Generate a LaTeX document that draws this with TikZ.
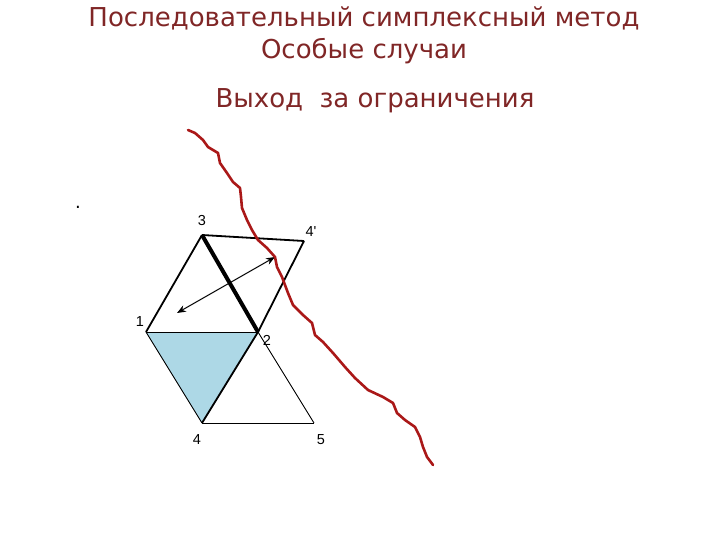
\documentclass[tikz,border=0pt]{standalone}
\usepackage{fontspec}
\setmainfont{DejaVu Sans}
\newfontfamily\labelfont{Liberation Sans}
\usetikzlibrary{arrows.meta}
\definecolor{titlered}{RGB}{128,38,38}
\definecolor{curvered}{RGB}{170,24,24}
\definecolor{facefill}{RGB}{173,216,230}
\newcommand{\titlesize}{\fontsize{26}{31}\selectfont}

\begin{document}
\begin{tikzpicture}[x=1pt, y=-1pt,
    title/.style={text=titlered, font=\titlesize, inner sep=0pt},
    vlabel/.style={font=\labelfont\fontsize{14.5}{16}\selectfont, inner sep=0pt},
    thinedge/.style={draw, line width=0.9pt},
    midedge/.style={draw, line width=1.8pt},
    boldedge/.style={draw, line width=4pt}]
    \useasboundingbox (0,0) rectangle (720,540);

    % Titles
    \node[title] (title-1) at (364,18) {Последовательный симплексный метод};
    \node[title] (title-2) at (364,51) {Особые случаи};
    \node[title] (title-3) at (375,101) {Выход\ \ за ограничения};
    \node[inner sep=0pt, font=\fontsize{18}{20}\selectfont] (dot) at (78,207) {.};

    % Vertices
    \coordinate (v1) at (146,332);
    \coordinate (v2) at (258,332);
    \coordinate (v3) at (202,235);
    \coordinate (v4) at (202,423);
    \coordinate (v5) at (314,423);
    \coordinate (v4p) at (304,241);

    % Shaded face
    \fill[facefill] (v1) -- (v2) -- (v4) -- cycle;

    % Edges
    \path[thinedge] (v1) -- (v2);
    \path[thinedge] (v1) -- (v4);
    \path[thinedge] (v4) -- (v5);
    \path[thinedge] (v2) -- (v5);
    \path[midedge] (v2) -- (v4);
    \path[midedge] (v3) -- (v1);
    \path[midedge] (v3) -- (v4p);
    \path[midedge] (v4p) -- (v2);
    \path[boldedge] (v3) -- (v2);

    % Labels
    \node[vlabel] (lab-1) at (140,322) {1};
    \node[vlabel] (lab-2) at (267,340) {2};
    \node[vlabel] (lab-3) at (202,221) {3};
    \node[vlabel] (lab-4) at (197,440) {4};
    \node[vlabel] (lab-5) at (321,440) {5};
    \node[vlabel] (lab-4p) at (311,232) {4'};

    % Reflection arrow
    \coordinate (a-start) at (177,313);
    \coordinate (a-end) at (275,257);
    \draw[{Stealth[length=9pt,width=7pt]}-{Stealth[length=9pt,width=7pt]}, line width=1pt] (a-start) -- (a-end);

    % Constraint
    \draw[curvered, line width=2.6pt, line cap=round, line join=round]
        plot coordinates {(188,130) (195,133) (203,140) (208,147) (218,153)
        (220,163) (227,173) (233,182) (240,188) (241,197) (242,208) (247,220)
        (252,230) (258,240) (267,248) (275,257) (277,267) (282,277) (288,293)
        (293,305) (303,315) (312,323) (315,335) (323,342) (333,353) (345,367)
        (355,378) (368,390) (383,397) (393,403) (397,413) (405,420) (415,427)
        (420,437) (423,447) (427,457) (433,465)};
\end{tikzpicture}
\end{document}
